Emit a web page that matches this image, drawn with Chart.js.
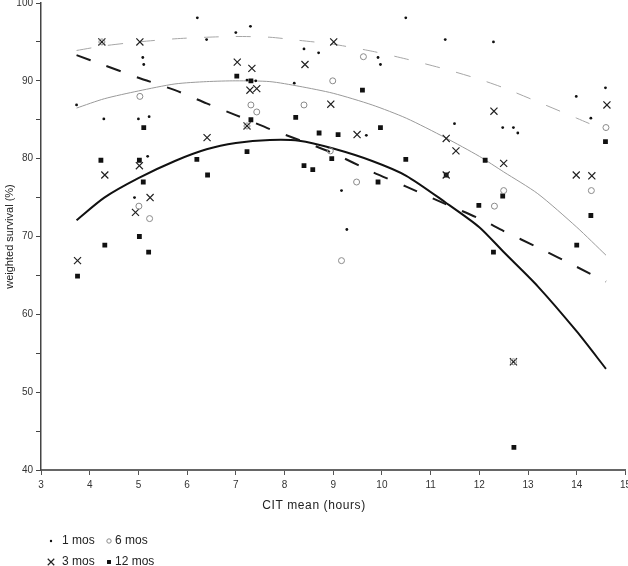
<!DOCTYPE html>
<html>
<head>
<meta charset="utf-8">
<script src="https://cdn.jsdelivr.net/npm/chart.js@4"></script>
<style>
  html, body { margin: 0; padding: 0; background: #fff; overflow: hidden; }
  #wrap { position: relative; width: 628px; height: 566px; overflow: hidden; }
  #inner { position: absolute; left: 0; top: -6px; width: 635px; height: 572px; }
</style>
</head>
<body>
<div id="wrap"><div id="inner"><canvas id="c"></canvas></div></div>
<script>
// ---- data ----
const seriesNames = ['1 mos', '6 mos', '3 mos', '12 mos'];
const xTitle = 'CIT mean (hours)';
const yTitle = 'weighted survival (%)';

const x1mos = [6.21, 6.40, 3.73, 4.29, 5.00, 5.22, 5.09, 5.11, 5.19, 4.92, 7.00, 7.30, 7.23, 7.41, 8.40, 8.70, 8.20, 9.92, 9.97, 10.49, 9.68, 9.17, 9.28, 11.30, 12.29, 11.49, 12.48, 12.70, 12.79, 13.99, 14.59, 14.29];
const y1mos = [98.1, 95.3, 86.9, 85.1, 85.1, 85.4, 93.0, 92.1, 80.3, 75.0, 96.2, 97.0, 90.1, 90.0, 94.1, 93.6, 89.7, 93.0, 92.1, 98.1, 83.0, 75.9, 70.9, 95.3, 95.0, 84.5, 84.0, 84.0, 83.3, 88.0, 89.1, 85.2];

const x3mos = [4.25, 5.03, 6.41, 5.02, 4.31, 5.24, 4.94, 3.75, 7.03, 7.33, 7.29, 7.43, 9.01, 8.42, 8.95, 9.49, 11.32, 12.30, 11.32, 11.52, 12.50, 14.62, 13.99, 14.31, 7.23, 12.70];
const y3mos = [95.0, 95.0, 82.7, 79.1, 77.9, 75.0, 73.1, 66.9, 92.4, 91.6, 88.8, 89.0, 95.0, 92.1, 87.0, 83.1, 77.9, 86.1, 82.6, 81.0, 79.4, 86.9, 77.9, 77.8, 84.2, 53.9];

const x6mos = [4.25, 5.03, 5.01, 5.23, 7.31, 7.43, 8.40, 8.99, 9.62, 8.94, 9.48, 9.17, 12.50, 12.31, 14.30, 14.60, 7.23, 12.70];
const y6mos = [95.0, 88.0, 73.9, 72.3, 86.9, 86.0, 86.9, 90.0, 93.1, 81.0, 77.0, 66.9, 75.9, 73.9, 75.9, 84.0, 84.2, 53.9];

const x12mos = [4.23, 5.02, 5.11, 6.20, 5.10, 6.42, 4.31, 5.02, 5.21, 3.75, 7.02, 7.31, 7.31, 7.23, 8.23, 8.71, 9.10, 9.60, 9.97, 10.49, 8.97, 8.40, 8.58, 9.92, 11.32, 12.48, 11.99, 12.29, 14.29, 14.00, 12.12, 14.59, 12.71];
const y12mos = [79.8, 79.8, 84.0, 79.9, 77.0, 77.9, 68.9, 70.0, 68.0, 64.9, 90.6, 90.0, 85.0, 80.9, 85.3, 83.3, 83.1, 88.8, 84.0, 79.9, 80.0, 79.1, 78.6, 77.0, 77.9, 75.2, 74.0, 68.0, 72.7, 68.9, 79.8, 82.2, 42.9];

// fitted curves
const fitX      = [3.73, 4.3, 5.0, 5.75, 6.4, 7.0, 7.7, 8.3, 9.0, 9.8, 10.5, 11.3, 12.0, 12.5, 13.2, 14.0, 14.6];
const fit1mos   = [93.9, 94.5, 95.0, 95.4, 95.6, 95.7, 95.6, 95.2, 94.7, 93.8, 92.8, 91.5, 90.2, 89.1, 87.3, 85.2, 83.6];
const fit6mos   = [86.5, 87.7, 88.7, 89.6, 89.9, 90.0, 89.9, 89.3, 88.4, 86.9, 85.2, 82.7, 80.3, 78.3, 75.5, 71.2, 67.6];
const fit3mos   = [93.3, 92.0, 90.4, 88.8, 87.1, 85.6, 83.8, 82.4, 80.7, 78.3, 76.4, 74.2, 72.3, 70.7, 68.6, 66.1, 64.2];
const fit12mos  = [72.1, 75.0, 77.5, 79.7, 81.2, 82.0, 82.4, 82.3, 81.3, 79.7, 77.8, 74.4, 71.2, 68.0, 63.6, 57.8, 53.0];

const xTicks = [3, 4, 5, 6, 7, 8, 9, 10, 11, 12, 13, 14, 15];
const yTicks = [40, 50, 60, 70, 80, 90, 100];

// ---- build datasets ----
const pts = (xs, ys) => xs.map((x, i) => ({ x: x, y: ys[i] }));

const styles = {
  '1 mos':  { pointStyle: 'circle',   radius: 1.4, bg: '#111', border: '#111', bw: 0 },
  '6 mos':  { pointStyle: 'circle',   radius: 3,   bg: 'rgba(0,0,0,0)', border: '#8a8a8a', bw: 1 },
  '3 mos':  { pointStyle: 'crossRot', radius: 5,   bg: '#222', border: '#222', bw: 1.2 },
  '12 mos': { pointStyle: 'rect',     radius: 3.4, bg: '#111', border: '#111', bw: 0 }
};

function scatterSet(name, xs, ys) {
  const s = styles[name];
  return {
    label: name,
    data: pts(xs, ys),
    showLine: false,
    pointStyle: s.pointStyle,
    pointRadius: s.radius,
    pointHoverRadius: s.radius,
    pointBackgroundColor: s.bg,
    pointBorderColor: s.border,
    pointBorderWidth: s.bw,
    order: 1
  };
}
function curveSet(name, ys, color, width, dash) {
  return {
    label: name + ' fit',
    data: pts(fitX, ys),
    showLine: true,
    fill: false,
    borderColor: color,
    borderWidth: width,
    borderDash: dash,
    pointRadius: 0,
    pointHoverRadius: 0,
    tension: 0.25,
    order: 2
  };
}

const datasets = [
  curveSet('1 mos', fit1mos, '#a6a6a6', 1, [15, 17]),
  curveSet('6 mos', fit6mos, '#9a9a9a', 1, []),
  curveSet('3 mos', fit3mos, '#1a1a1a', 2, [15, 17]),
  curveSet('12 mos', fit12mos, '#111', 2, []),
  scatterSet('1 mos', x1mos, y1mos),
  scatterSet('6 mos', x6mos, y6mos),
  scatterSet('3 mos', x3mos, y3mos),
  scatterSet('12 mos', x12mos, y12mos)
];

// canvas is shifted up inside the page, so page y = canvas y - OFFY
const OFFY = 6;

// ---- custom legend + x title ----
const extras = {
  id: 'extras',
  afterDraw(chart) {
    const ctx = chart.ctx;
    ctx.save();
    ctx.fillStyle = '#222';
    ctx.textBaseline = 'middle';
    ctx.textAlign = 'center';
    ctx.font = '12px "Liberation Sans", Arial, sans-serif';
    try { ctx.letterSpacing = '0.6px'; } catch (e) {}
    ctx.fillText(xTitle, 314, 506 + OFFY);
    try { ctx.letterSpacing = '0px'; } catch (e) {}

    const legendPos = {
      '1 mos':  [51, 541, 62],
      '6 mos':  [109, 541, 115],
      '3 mos':  [51, 562, 62],
      '12 mos': [109, 562, 115]
    };
    ctx.textAlign = 'left';
    seriesNames.forEach(name => {
      const s = styles[name];
      const p = legendPos[name];
      const y = p[1] + OFFY;
      ctx.fillStyle = s.bg;
      ctx.strokeStyle = s.border;
      ctx.lineWidth = s.bw;
      const r = name === '6 mos' ? 2.2 : (name === '12 mos' ? 2.8 : (name === '3 mos' ? 4.6 : 1.2));
      Chart.helpers.drawPoint(ctx, { pointStyle: s.pointStyle, radius: r, rotation: 0, borderWidth: s.bw }, p[0], y);
      ctx.fillStyle = '#222';
      ctx.fillText(name, p[2], y);
    });
    ctx.restore();
  }
};

new Chart(document.getElementById('c'), {
  type: 'scatter',
  data: { datasets: datasets },
  options: {
    responsive: true,
    maintainAspectRatio: false,
    animation: false,
    layout: { padding: { top: 2, right: 3, left: 0, bottom: 0 } },
    plugins: {
      legend: { display: false },
      tooltip: { enabled: false },
      title: { display: false }
    },
    scales: {
      x: {
        type: 'linear',
        min: 3, max: 15,
        afterFit(scale) { scale.height = 96; },
        afterBuildTicks(scale) { scale.ticks = xTicks.map(v => ({ value: v })); },
        ticks: {
          color: '#333',
          font: { family: '"Liberation Sans", Arial, sans-serif', size: 10 },
          padding: 4,
          maxRotation: 0,
          autoSkip: false
        },
        grid: { drawOnChartArea: false, drawTicks: true, tickLength: 5, color: '#555', lineWidth: 1 },
        border: { display: true, color: '#666', width: 2 }
      },
      y: {
        type: 'linear',
        min: 40, max: 100,
        afterFit(scale) { scale.width = 41; },
        ticks: {
          stepSize: 5,
          color: '#333',
          font: { family: '"Liberation Sans", Arial, sans-serif', size: 10 },
          padding: 3,
          autoSkip: false,
          callback: v => (yTicks.includes(v) ? String(v) : '')
        },
        grid: { drawOnChartArea: false, drawTicks: true, tickLength: 5, color: '#444', lineWidth: 1 },
        border: { display: true, color: '#444', width: 1.5 },
        title: {
          display: true,
          text: yTitle,
          color: '#222',
          font: { family: '"Liberation Sans", Arial, sans-serif', size: 11 },
          padding: { top: 3, bottom: 0 }
        }
      }
    }
  },
  plugins: [extras]
});
</script>
</body>
</html>
